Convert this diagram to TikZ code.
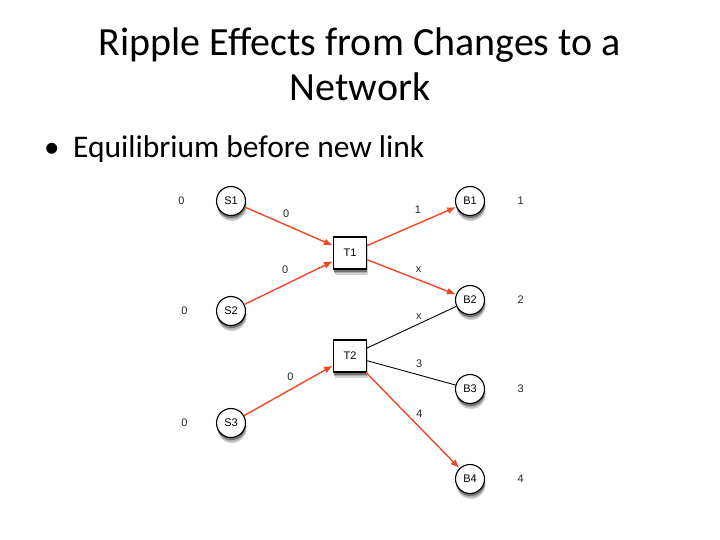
\documentclass[tikz,border=0pt]{standalone}
\usepackage{fontspec}
\setmainfont{Carlito}
\newfontfamily\diag{Liberation Sans}
\usepackage{tikz}
\usetikzlibrary{positioning, arrows.meta}
\definecolor{flowred}{RGB}{238,72,40}
\newcommand\dg{\diag\fontsize{11}{13}\selectfont}

\begin{document}
\begin{tikzpicture}[x=1pt, y=-1pt,
  shade below/.style={preaction={fill=black!18, transform canvas={xshift=1pt, yshift=-5.5pt}},
    preaction={fill=black!32, transform canvas={xshift=0.8pt, yshift=-4pt}},
    preaction={fill=black!55, transform canvas={xshift=0.5pt, yshift=-2.5pt}}},
  party/.style={draw, circle, line width=1.1pt, fill=white, minimum size=29pt, inner sep=0pt, font=\dg, shade below},
  trader/.style={draw, rectangle, line width=1.1pt, fill=white, minimum width=33pt, minimum height=32pt, inner sep=0pt, font=\dg, shade below},
  flow/.style={draw=flowred, line width=1.4pt, -{Latex[length=9pt, width=7pt]}},
  idle/.style={draw=black, line width=0.9pt},
  val/.style={font=\dg, text=black!85}]
\useasboundingbox (0,0) rectangle (720,540);
% title and bullet
\node[anchor=base, font=\fontsize{40}{48}\selectfont] (title1) at (360,56) {Ripple Effects from Changes to a};
\node[anchor=base, font=\fontsize{40}{48}\selectfont] (title2) at (360,101) {Network};
\node[anchor=base west, font=\fontsize{31}{37}\selectfont, inner sep=0pt] (dot) at (44,158) {•};
\node[anchor=base west, font=\fontsize{31.5}{37}\selectfont, inner sep=0pt] (point) at (73,158) {Equilibrium before new link};
% sellers, traders, buyers
\node[party] (s1) at (231,201) {S1};
\node[party] (s2) at (231,311) {S2};
\node[party] (s3) at (231,423) {S3};
\node[trader] (t1) at (350,253) {T1};
\node[trader] (t2) at (350,356) {T2};
\node[party] (b1) at (470,201) {B1};
\node[party] (b2) at (470,300) {B2};
\node[party] (b3) at (470,389) {B3};
\node[party] (b4) at (470,479) {B4};
% values
\node[val, left=28pt of s1] (vs1) {0};
\node[val, left=25pt of s2] (vs2) {0};
\node[val, left=25pt of s3] (vs3) {0};
\node[val, right=29pt of b1] (vb1) {1};
\node[val, right=29pt of b2] (vb2) {2};
\node[val, right=29pt of b3] (vb3) {3};
\node[val, right=29pt of b4] (vb4) {4};
% links
\draw[flow] (s1) -- (t1) node[val, above=3pt, pos=.47]{0};
\draw[flow] (s2) -- (t1) node[val, above=7pt, pos=.46]{0};
\draw[flow] (t1) -- (b1) node[val, above=6pt, pos=.57]{1};
\draw[flow] (t1) -- (b2) node[val, above=3pt, pos=.58]{x};
\draw[idle] (t2) -- (b2) node[val, above=1pt, pos=.58]{x};
\draw[idle] (t2) -- (b3) node[val, above=4pt, pos=.59]{3};
\draw[flow] (t2) -- (b4) node[val, right=6pt, pos=.43]{4};
\draw[flow] (s3) -- (t2) node[val, above=5pt, pos=.52]{0};
\end{tikzpicture}
\end{document}
